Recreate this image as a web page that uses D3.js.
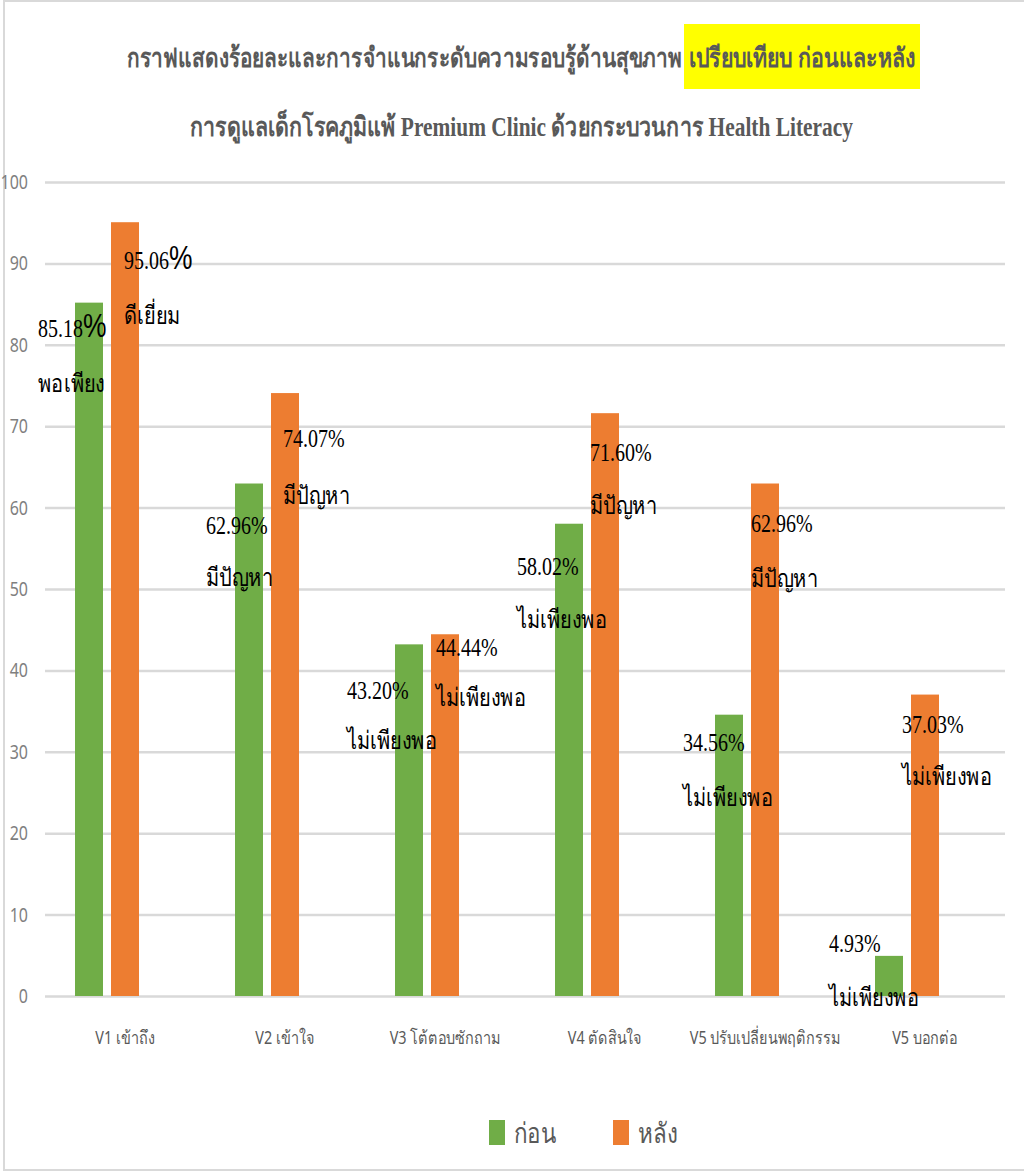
<!DOCTYPE html>
<html><head><meta charset="utf-8">
<script src="https://cdn.jsdelivr.net/npm/d3@7/dist/d3.min.js"></script>
<style>body{margin:0;background:#fff;} svg{display:block;}</style>
</head><body>
<svg id="c" width="1024" height="1174"></svg>
<script>
// ---- data ----
const categories = ["V1 เข้าถึง","V2 เข้าใจ","V3 โต้ตอบซักถาม","V4 ตัดสินใจ","V5 ปรับเปลี่ยนพฤติกรรม","V5 บอกต่อ"];
const seriesNames = ["ก่อน","หลัง"];
const beforeValues = [85.18, 62.96, 43.20, 58.02, 34.56, 4.93];
const afterValues  = [95.06, 74.07, 44.44, 71.60, 62.96, 37.03];
const beforeLevels = ["พอเพียง","มีปัญหา","ไม่เพียงพอ","ไม่เพียงพอ","ไม่เพียงพอ","ไม่เพียงพอ"];
const afterLevels  = ["ดีเยี่ยม","มีปัญหา","ไม่เพียงพอ","มีปัญหา","มีปัญหา","ไม่เพียงพอ"];
const yTickValues = [0,10,20,30,40,50,60,70,80,90,100];
const titleMain = "กราฟแสดงร้อยละและการจำแนกระดับความรอบรู้ด้านสุขภาพ";
const titleHighlight = "เปรียบเทียบ ก่อนและหลัง";
const titleSub = "การดูแลเด็กโรคภูมิแพ้ Premium Clinic ด้วยกระบวนการ Health Literacy";

// ---- layout / style ----
const colors = {"ก่อน":"#70AD47","หลัง":"#ED7D31"};
const plot = {left:45, right:1005, top:182, bottom:996};
// label offsets relative to bar left edge / bar top: [dx, dyLine1, dyLine2]
const labelNudge = {
  "ก่อน": [[-37,26,81],[-29,42,94],[-48,46,96],[-38,43,96],[-32,28,83],[-46,-13,41]],
  "หลัง": [[13,38,93],[12,45,102],[5,13,63],[-1,39,92],[0,40,95],[-9,30,82]]
};
const squeeze = 0.8;
const thaiSerif = "'Norasi','Laksaman','TH Sarabun New','Liberation Serif','Times New Roman',serif";
const thaiSans = "'Noto Sans','Liberation Sans',sans-serif";

const svg = d3.select("#c");
const grey = "#595959";

// outer border
svg.append("rect").attr("x",4).attr("y",1).attr("width",1040).attr("height",1169)
  .attr("fill","none").attr("stroke","#d9d9d9").attr("stroke-width",2);

// title (fit each piece to its measured span with a horizontal scale)
svg.append("rect").attr("x",684).attr("y",24).attr("width",236).attr("height",65).attr("fill","#ffff00");
function fittedTitle(str, x0, yc, width) {
  const g = svg.append("g");
  const t = g.append("text").attr("dominant-baseline","central")
    .style("font-family",thaiSerif).style("font-weight","bold").style("font-size","27px")
    .attr("fill",grey).text(str);
  const len = t.node().getComputedTextLength();
  g.attr("transform",`translate(${x0},${yc}) scale(${width/len},1)`);
}
fittedTitle(titleMain, 127, 58, 551);
fittedTitle(titleHighlight, 689, 58, 228);
fittedTitle(titleSub, 190, 127, 663);

// scales
const x = d3.scaleBand().domain(categories).range([plot.left, plot.right]);
const xInner = d3.scaleBand().domain(seriesNames).range([30, 94]).paddingInner(8/36);
const y = d3.scaleLinear().domain([0,100]).range([plot.bottom, plot.top]);

// y axis + gridlines
const yAxis = svg.append("g").attr("transform",`translate(${plot.left},0)`)
  .call(d3.axisLeft(y).tickValues(yTickValues).tickSize(-(plot.right - plot.left)).tickPadding(17).tickFormat(d3.format("d")));
yAxis.select(".domain").remove();
yAxis.selectAll(".tick line").attr("stroke","#d9d9d9").attr("stroke-width",2.5);
yAxis.selectAll(".tick text").attr("x",0).attr("transform",`translate(-17,0) scale(0.8,1)`)
  .style("font-family",thaiSans).style("font-size","20px").attr("fill","#7f7f7f");

// x axis labels
const xAxis = svg.append("g").attr("transform",`translate(0,${plot.bottom})`)
  .call(d3.axisBottom(x).tickSize(0).tickPadding(35));
xAxis.select(".domain").remove();
xAxis.selectAll(".tick text").attr("transform",`scale(${squeeze},1)`)
  .style("font-family",thaiSans).style("font-size","18px").attr("fill",grey);

// bars
const series = [
  {name:"ก่อน", values:beforeValues, levels:beforeLevels},
  {name:"หลัง", values:afterValues, levels:afterLevels}
];
series.forEach(s => {
  const rows = categories.map((c,i)=>({c, v:s.values[i], i}));
  svg.append("g").selectAll("rect").data(rows).join("rect")
    .attr("x", d => x(d.c) + xInner(s.name))
    .attr("y", d => y(d.v))
    .attr("width", xInner.bandwidth())
    .attr("height", d => y(0) - y(d.v))
    .attr("fill", colors[s.name]);
});

// data labels
const lFont = thaiSerif;
series.forEach(s => {
  categories.forEach((c,i) => {
    const [dx, dy1, dy2] = labelNudge[s.name][i];
    const bx = x(c) + xInner(s.name) + dx;
    const by = y(s.values[i]);
    const g1 = svg.append("g").attr("transform",`translate(${bx},${by+dy1}) scale(${squeeze},1)`);
    const t1 = g1.append("text").attr("dy","0.35em")
      .style("font-family",lFont).style("font-size","25px").attr("fill","#000");
    t1.append("tspan").text(s.values[i].toFixed(2));
    t1.append("tspan").text("%").style("font-size", i===0 ? "33px" : "25px")
      .style("font-family", i===0 ? "'Liberation Sans',sans-serif" : lFont);
    svg.append("g").attr("transform",`translate(${bx},${by+dy2}) scale(${squeeze},1)`)
      .append("text").attr("dy","0.35em")
      .style("font-family",lFont).style("font-size","25px").attr("fill","#000")
      .text(s.levels[i]);
  });
});

// legend
const legend = svg.append("g");
const legendX = {"ก่อน":489, "หลัง":613};
seriesNames.forEach(n => {
  legend.append("rect").attr("x",legendX[n]).attr("y",1120).attr("width",16).attr("height",25).attr("fill",colors[n]);
  legend.append("g").attr("transform",`translate(${legendX[n]+25},1133) scale(${squeeze},1)`)
    .append("text").attr("dy","0.35em")
    .style("font-family",thaiSans).style("font-size","28px").attr("fill",grey).text(n);
});
</script>
</body></html>
